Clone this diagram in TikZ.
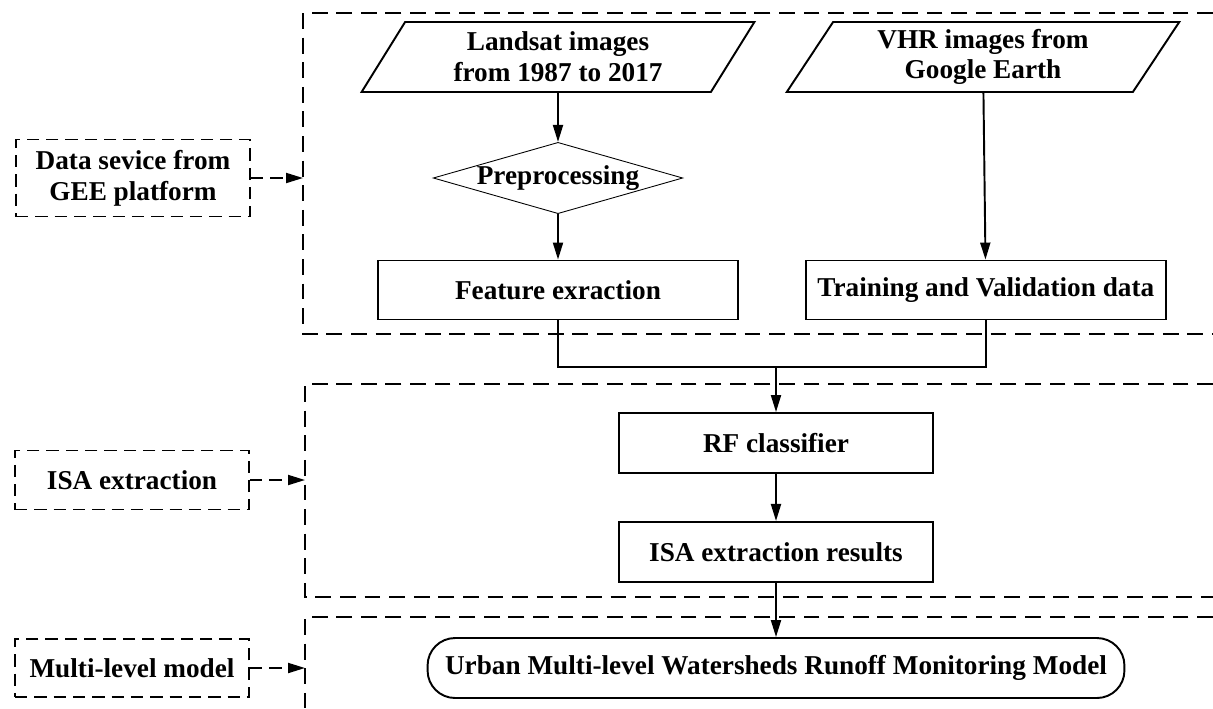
\documentclass[tikz,border=0pt]{standalone}
\usepackage{fontspec}
\setmainfont{Liberation Serif}
\usetikzlibrary{arrows.meta,positioning,shapes.geometric}

\begin{document}
\begin{tikzpicture}[x=0.02cm, y=-0.02cm, line width=1.1pt,
  every node/.style={font=\bfseries\fontsize{15.5}{17.5}\selectfont, align=center},
  box/.style={draw, minimum width=7.2cm, minimum height=1.18cm},
  input/.style={draw, trapezium, trapezium left angle=63, trapezium right angle=117,
    trapezium stretches=true, minimum width=7.86cm, minimum height=1.4cm},
  stage/.style={draw, dash pattern=on 7pt off 4pt, minimum width=4.68cm, minimum height=1.18cm},
  region/.style={dash pattern=on 9pt off 5pt},
  arr/.style={-{Triangle[length=3.4mm,width=2mm]}}]
\useasboundingbox (0,0) rectangle (1213,708);

% dashed bands of the three stages
\draw[region] (1213,13) -| (303,334) -- (1213,334);
\draw[region] (1213,384) -| (305,597) -- (1213,597);
\draw[region] (1213,617) -| (305,708);
\coordinate (band1) at (303,178);
\coordinate (band2) at (305,480);
\coordinate (band3) at (305,668);

\node[stage, minimum height=1.54cm] (gee) at (133,178) {Data sevice from\\GEE platform};
\node[stage] (isastage) at (132,480) {ISA extraction};
\node[stage, minimum height=1.16cm] (multi) at (132,668) {Multi-level model};
\draw[arr, dash pattern=on 7pt off 4pt] (gee) -- (band1);
\draw[arr, dash pattern=on 7pt off 4pt] (isastage) -- (band2);
\draw[arr, dash pattern=on 7pt off 4pt] (multi) -- (band3);

\node[input] (landsat) at (558,57) {Landsat images\\from 1987 to 2017};
\node[input] (vhr) at (983,57) {VHR images from\\Google Earth};
\node[draw, diamond, aspect=3.5, line width=0.5pt, inner sep=0pt,
      minimum width=4.9cm, minimum height=1.4cm] (pre) at (558,178) {Preprocessing};
\node[box] (feat) at (558,290) {Feature exraction};
\node[box, right=1.32cm of feat] (trn) {Training and Validation data};
\node[box, minimum width=6.28cm, minimum height=1.2cm] (rf) at (776,443) {RF classifier};
\node[box, minimum width=6.28cm, minimum height=1.2cm, below=0.94cm of rf] (isa) {ISA extraction results};
\node[draw, rounded corners=0.55cm, minimum width=13.94cm, minimum height=1.2cm] (urban) at (776,668)
  {Urban Multi-level Watersheds Runoff Monitoring Model};

\draw[arr] (landsat) -- (pre);
\draw[arr] (pre) -- (feat);
\draw[arr] (vhr) -- (trn);
\coordinate (merge) at (776,367);
\draw (feat.south) |- (merge) -| (trn.south);
\draw[arr] (merge) -- (rf);
\draw[arr] (rf) -- (isa);
\draw[arr] (isa) -- (urban);
\end{tikzpicture}
\end{document}
